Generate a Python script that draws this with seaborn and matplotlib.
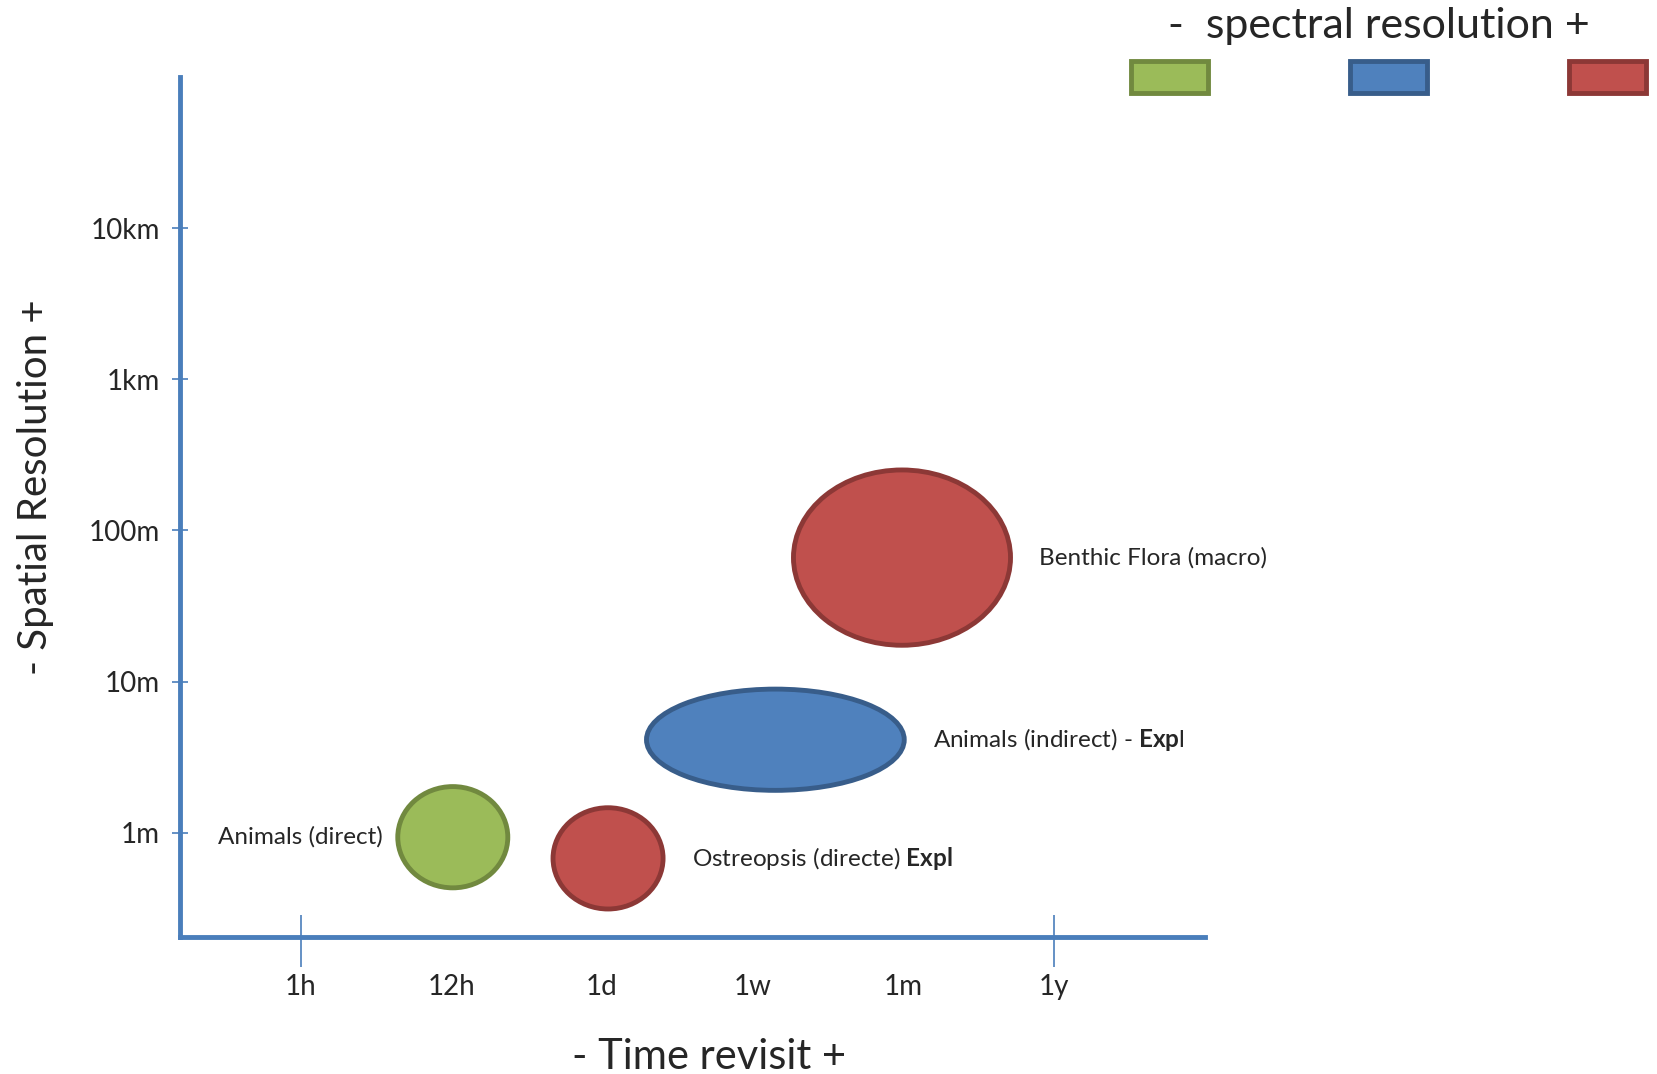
import matplotlib
matplotlib.use("Agg")
import matplotlib.pyplot as plt
from matplotlib.patches import Ellipse
import seaborn as sns
import numpy as np

# ---------------------------------- DATA ----------------------------------
# x: time revisit category index, y: log10 of spatial resolution in metres
time_labels = ["1h", "12h", "1d", "1w", "1m", "1y"]
res_labels = ["1m", "10m", "100m", "1km", "10km"]
res_log10 = [0, 1, 2, 3, 4]

groups = ["Animals (direct)", "Ostreopsis (directe) $\\mathbf{Expl}$",
          "Animals (indirect) - $\\mathbf{Exp}$l", "Benthic Flora (macro)"]
time_center = [1.01, 2.04, 3.15, 3.99]
res_center = [-0.03, -0.17, 0.615, 1.82]
time_span = [0.73, 0.73, 1.71, 1.44]
res_span = [0.67, 0.67, 0.67, 1.16]
spectral = ["low", "high", "mid", "high"]
label_side = ["left", "right", "right", "right"]

spectral_levels = ["low", "mid", "high"]

# colours (fill, edge) per spectral level
fills = {"low": "#9BBB59", "mid": "#4F81BD", "high": "#C0504D"}
edges = {"low": "#71893F", "mid": "#385D8A", "high": "#8C3836"}
axis_blue = "#4A7EBB"

# ---------------------------------- STYLE ---------------------------------
sns.set_theme(style="white")
plt.rcParams["font.family"] = ["Lato", "DejaVu Sans"]
plt.rcParams["mathtext.fontset"] = "custom"
plt.rcParams["mathtext.rm"] = "Lato"
plt.rcParams["mathtext.bf"] = "Lato:bold"

fig = plt.figure(figsize=(16.57, 10.74), dpi=100)
ax = fig.add_axes([0.1086, 0.1276, 0.6186, 0.8007])

# ellipses with their labels
gaps = {"right": 0.19, "left": 0.1}
for i in range(len(groups)):
    e = Ellipse((time_center[i], res_center[i]), time_span[i], res_span[i],
                facecolor=fills[spectral[i]], edgecolor=edges[spectral[i]],
                linewidth=3.5, zorder=3)
    ax.add_patch(e)
    gap = gaps[label_side[i]]
    if label_side[i] == "right":
        ax.text(time_center[i] + time_span[i] / 2 + gap, res_center[i], groups[i],
                ha="left", va="center", fontsize=17.5)
    else:
        ax.text(time_center[i] - time_span[i] / 2 - gap, res_center[i], groups[i],
                ha="right", va="center", fontsize=17.5)

ax.set_xlim(-0.8, 6.0)
ax.set_ylim(-0.69, 5.0)

# axes spines
sns.despine(ax=ax)
for side in ["left", "bottom"]:
    ax.spines[side].set_color(axis_blue)
    ax.spines[side].set_linewidth(3.5)

# y ticks
ax.set_yticks(res_log10)
ax.set_yticklabels(res_labels, fontsize=20)
ax.tick_params(axis="y", direction="inout", length=11, width=1.2,
               color=axis_blue, pad=9, left=True)

# x ticks: labels only, marks at first and last
ax.set_xticks(range(len(time_labels)))
ax.set_xticklabels(time_labels, fontsize=20)
ax.tick_params(axis="x", length=0, pad=27)
ax.vlines([0, len(time_labels) - 1], -0.035, 0.025, transform=ax.get_xaxis_transform(),
          color=axis_blue, linewidth=1.2, clip_on=False)

ax.set_xlabel("- Time revisit +", fontsize=30)
ax.xaxis.set_label_coords(0.516, -0.117)
ax.set_ylabel("- Spatial Resolution +", fontsize=29)
ax.yaxis.set_label_coords(-0.123, 0.523)

# spectral resolution key at top right
kax = fig.add_axes([1131 / 1657, 1 - 93 / 1074, 515 / 1657, 32 / 1074])
bars = kax.bar(range(len(spectral_levels)), [1] * len(spectral_levels), width=0.35,
               color=[fills[s] for s in spectral_levels],
               edgecolor=[edges[s] for s in spectral_levels], linewidth=3.5)
for b in bars:
    b.set_clip_on(False)
kax.set_xlim(-0.175, 2.175)
kax.set_ylim(0, 1)
kax.axis("off")
fig.text(1379 / 1657, 1 - 26 / 1074, "-  spectral resolution +", ha="center",
         va="center", fontsize=31)

fig.savefig("out.png", dpi=100)
